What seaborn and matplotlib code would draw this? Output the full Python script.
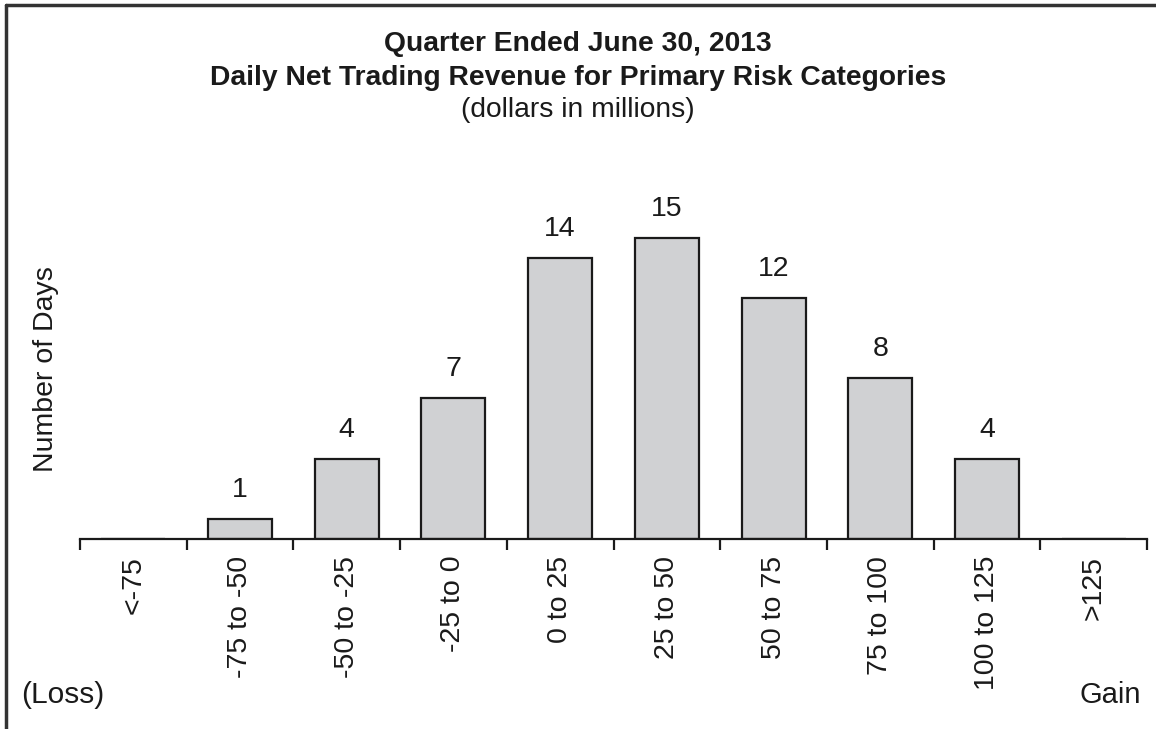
import matplotlib
matplotlib.use("Agg")
import matplotlib.pyplot as plt
import seaborn as sns
import numpy as np
import pandas as pd
from matplotlib.lines import Line2D

# data
categories = ["<-75", "-75 to -50", "-50 to -25", "-25 to 0", "0 to 25",
              "25 to 50", "50 to 75", "75 to 100", "100 to 125", ">125"]
days = [0, 1, 4, 7, 14, 15, 12, 8, 4, 0]

df = pd.DataFrame({"range": categories, "days": days})

sns.set_style("white")
plt.rcParams['font.family'] = ['Liberation Sans', 'DejaVu Sans']

fig = plt.figure(figsize=(11.56, 7.29), dpi=100)
ax = fig.add_axes([80 / 1156, 190 / 729, 1067 / 1156, 339 / 729])

sns.barplot(data=df, x="range", y="days", order=categories, color="#d0d1d3",
            saturation=1, width=0.6, edgecolor="#1a1a1a", linewidth=1.6, ax=ax)

ax.set_xlim(-0.5, len(categories) - 0.5)
ax.set_ylim(0, 16.87)

# value labels above the bars
for i, v in enumerate(days):
    if v > 0:
        ax.text(i, v + 0.8, str(v), ha="center", va="bottom", fontsize=20.5,
                color="#1a1a1a")

for s in ["top", "right", "left"]:
    ax.spines[s].set_visible(False)
ax.spines["bottom"].set_color("#1a1a1a")
ax.spines["bottom"].set_linewidth(1.6)

# tick marks on bin boundaries, labels at bar centres
ax.set_xticks(np.arange(-0.5, len(categories), 1.0))
ax.set_xticklabels([])
ax.tick_params(axis="x", which="major", direction="out", length=8, width=1.6,
               color="#1a1a1a", bottom=True)
ax.set_xticks(np.arange(len(categories)), minor=True)
ax.set_xticklabels(categories, minor=True, rotation=90, fontsize=20.5,
                   color="#1a1a1a", va="top")
ax.tick_params(axis="x", which="minor", length=0, pad=12)
ax.set_yticks([])
ax.set_xlabel("")
ax.set_ylabel("Number of Days", fontsize=20.5, color="#1a1a1a", labelpad=15)

# titles
fig.text(0.5, 1 - 44 / 729, "Quarter Ended June 30, 2013", ha="center",
         va="center", fontsize=20.3, fontweight="bold", color="#1a1a1a")
fig.text(0.5, 1 - 78 / 729, "Daily Net Trading Revenue for Primary Risk Categories",
         ha="center", va="center", fontsize=20.3, fontweight="bold", color="#1a1a1a")
fig.text(0.5, 1 - 110 / 729, "(dollars in millions)", ha="center", va="center",
         fontsize=20.3, color="#1a1a1a")

fig.text(21 / 1156, 1 - 695 / 729, "(Loss)", ha="left", va="center",
         fontsize=21.5, color="#1a1a1a")
fig.text(1141 / 1156, 1 - 695 / 729, "Gain", ha="right", va="center",
         fontsize=21, color="#1a1a1a")

# frame: top and left edges only
fig.add_artist(Line2D([6 / 1156, 1], [1 - 5 / 729, 1 - 5 / 729],
                      transform=fig.transFigure, color="#333333", linewidth=2.5))
fig.add_artist(Line2D([6 / 1156, 6 / 1156], [0, 1 - 5 / 729],
                      transform=fig.transFigure, color="#333333", linewidth=2.5))

fig.savefig("out.png", dpi=100)
